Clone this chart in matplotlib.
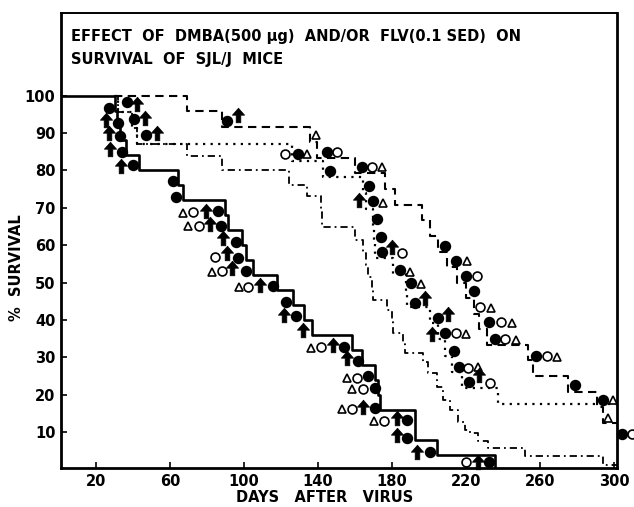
import matplotlib
matplotlib.use("Agg")
import matplotlib.pyplot as plt
from matplotlib.path import Path

# ---- survival curves: change points (day, % survival), step "post" ----
solid_days = [0, 30.3, 31.5, 33, 36.5, 43.4, 64.5, 67.2, 89.7, 91.5, 98.8, 101.1, 104.7,
              118, 126.6, 132.4, 136.6, 158.2, 163.6, 170.8, 172.4, 173.5, 192.4, 204.2, 235.5]
solid_pct = [100, 96, 92, 88, 84, 80, 76, 72, 68, 64, 60, 56, 52,
             48, 44, 40, 36, 32, 28, 24, 20, 16, 8, 4, 0]

dashed_days = [30, 69.0, 87.9, 135.7, 139.5, 160.0, 176.2, 181.6, 196.0, 200.5, 204.9, 209.7,
               215.1, 220.0, 224.3, 227.0, 231.2, 253.5, 256.2, 275.3, 290.6, 294.0, 301.6]
dashed_pct = [100, 95.8, 91.7, 87.5, 83.3, 79.2, 75.0, 70.8, 66.7, 62.5, 58.3, 54.2,
              50.0, 45.8, 41.7, 37.5, 33.3, 29.2, 25.0, 20.8, 16.7, 12.5, 12.5]

dotted_days = [30.3, 32, 39.5, 42, 125.8, 142.9, 164.2, 166, 169.9, 170.5, 171, 180.7,
               187.6, 188, 200.5, 204.9, 208.6, 212.4, 217.7, 237.5, 301.6]
dotted_pct = [100, 95.65, 91.3, 86.96, 82.61, 78.26, 73.91, 69.57, 65.22, 60.87, 56.52, 52.17,
              47.83, 43.48, 39.13, 34.78, 30.43, 26.09, 21.74, 17.39, 17.39]

dashdot_days = [30.3, 32, 39.5, 42, 69.0, 87.9, 124.3, 134.3, 141.6, 142.3, 160.0, 164.3, 166,
                167.2, 169, 169.9, 177.1, 180, 180.7, 186, 187.0, 196.9, 199.6, 204.2, 207.8,
                211.4, 215.9, 219.5, 222.2, 226.5, 231.9, 252.0, 294.3, 301.6]
dashdot_pct = [100, 95.7, 91.3, 87.0, 83.8, 80.2, 76.1, 73.1, 68.9, 64.9, 61.4, 57.8, 54.7,
               51.6, 48.4, 45.3, 42.6, 39.5, 36.4, 33.7, 31.1, 28.8, 25.7, 22.1, 18.6,
               15.9, 12.8, 10.6, 9.7, 7.5, 5.7, 3.7, 1.2, 1.2]

# ---- individual deaths (day, %) by symbol ----
fcirc_day = [27.0, 37.0, 31.9, 40.3, 33.2, 47.0, 34.1, 40.2, 61.6, 63.0, 85.7, 87.6, 95.7,
             96.9, 101.1, 115.5, 122.7, 128.1, 154.0, 161.8, 167.2, 170.8, 170.8, 188.3,
             188.3, 200.5, 232.3, 90.6, 129.3, 144.7, 146.7, 163.6, 167.7, 169.9, 172.0,
             173.9, 174.4, 184.3, 190.3, 192.4, 204.6, 208.9, 213.5, 216.2, 221.8, 208.4,
             214.7, 220.0, 224.4, 232.6, 235.4, 257.8, 279.1, 293.9, 304.1]
fcirc_pct = [96.8, 98.3, 92.8, 93.7, 89.3, 89.4, 85.0, 81.4, 77.1, 73.0, 69.1, 65.0, 60.9,
             56.7, 53.2, 49.1, 44.9, 41.0, 32.8, 29.1, 25.0, 21.7, 16.4, 13.2,
             8.5, 4.8, 2.0, 93.2, 84.5, 85.0, 79.9, 81.0, 75.8, 71.8, 67.0,
             62.2, 58.2, 53.3, 49.8, 44.4, 40.6, 36.6, 31.7, 27.3, 23.5, 59.8,
             55.7, 51.7, 47.7, 39.5, 34.8, 30.3, 22.6, 18.6, 9.4]

ocirc_day = [72.3, 75.8, 84.3, 87.9, 102.3, 141.5, 160.9, 164.2, 158.2, 175.8, 220.0, 122.2,
             150.1, 169.2, 185.2, 214.6, 221.2, 233.0, 226.1, 227.6, 238.7, 241.3, 263.6, 309.5]
ocirc_pct = [69.0, 65.0, 56.9, 53.1, 48.7, 32.7, 24.6, 21.5, 16.2, 13.0, 2.0, 84.5,
             85.0, 81.0, 58.0, 36.4, 27.2, 23.2, 51.7, 43.4, 39.5, 34.8, 30.3, 9.4]

otri_day = [67.2, 69.9, 82.5, 97.3, 136.0, 155.5, 158.2, 153.1, 170.4, 138.9, 134.3, 174.6,
            175.0, 189.7, 195.5, 220.0, 226.6, 220.4, 233.3, 244.6, 247.0, 269.4, 299.2, 296.9]
otri_pct = [68.7, 65.0, 52.9, 48.7, 32.4, 24.6, 21.4, 16.2, 13.0, 89.6, 84.5, 80.9,
            71.4, 52.9, 49.7, 36.2, 27.3, 55.7, 43.3, 39.3, 34.6, 30.2, 18.6, 13.9]

arrow_day = [42.4, 25.4, 46.5, 27.3, 53.2, 27.8, 33.6, 79.5, 81.8, 88.8, 90.6, 93.3, 108.6,
             121.8, 132.0, 147.9, 155.5, 164.5, 182.5, 182.5, 193.7, 226.7, 96.9, 162.2,
             180.0, 197.8, 210.4, 201.4, 227.2]
arrow_pct = [97.7, 93.4, 94.1, 89.9, 90.1, 85.7, 81.3, 69.1, 65.6, 61.8, 57.8, 53.8, 49.3,
             41.3, 37.3, 33.3, 29.7, 16.8, 13.7, 9.2, 4.8, 2.0, 94.7, 72.1,
             59.4, 46.0, 41.6, 36.2, 25.3]

title_lines = ["EFFECT  OF  DMBA(500 \u03bcg)  AND/OR  FLV(0.1 SED)  ON",
               "SURVIVAL  OF  SJL/J  MICE"]
xticks = [20, 60, 100, 140, 180, 220, 260, 300]
yticks = [10, 20, 30, 40, 50, 60, 70, 80, 90, 100]

W, H = 634, 507
FONT = dict(family="DejaVu Sans", weight="bold")


def arrow_marker():
    verts = [(0, 0.5), (0.42, 0.02), (0.16, 0.02), (0.16, -0.5), (-0.16, -0.5),
             (-0.16, 0.02), (-0.42, 0.02), (0, 0.5)]
    codes = [Path.MOVETO] + [Path.LINETO] * 6 + [Path.CLOSEPOLY]
    return Path(verts, codes)


def main():
    fig = plt.figure(figsize=(W / 100, H / 100), dpi=100)
    ax = fig.add_axes([61 / W, 1 - 468 / H, (617 - 61) / W, (468 - 13) / H])
    ax.set_xlim(1.1, 301.6)
    ax.set_ylim(0.4, 122.1)

    ax.step(dashdot_days, dashdot_pct, where="post", color="black", lw=1.3,
            ls=(0, (4, 2.2, 1, 2.2)), zorder=2)
    ax.step(dotted_days, dotted_pct, where="post", color="black", lw=1.6,
            ls=(0, (1, 2.4)), zorder=2)
    ax.step(dashed_days, dashed_pct, where="post", color="black", lw=1.5,
            ls=(0, (4, 2.6)), zorder=2)
    ax.step(solid_days, solid_pct, where="post", color="black", lw=1.9, zorder=3)

    kw = dict(ls="none", color="black", clip_on=False, zorder=4)
    ax.plot(fcirc_day, fcirc_pct, marker="o", ms=7.2, mfc="black", mec="black", **kw)
    ax.plot(ocirc_day, ocirc_pct, marker="o", ms=6.4, mfc="white", mec="black", mew=1.2, **kw)
    ax.plot(otri_day, otri_pct, marker="^", ms=6.4, mfc="white", mec="black", mew=1.2, **kw)
    ax.plot(arrow_day, arrow_pct, marker=arrow_marker(), ms=10.5, mfc="black", mec="black",
            mew=0.5, **kw)

    for side in ["left", "bottom", "right"]:
        ax.spines[side].set_linewidth(2.0)
    ax.spines["top"].set_linewidth(1.4)

    ax.set_xticks(xticks)
    ax.set_yticks(yticks)
    ax.set_xticklabels([str(t) for t in xticks], **FONT)
    ax.set_yticklabels([str(t) for t in yticks], **FONT)
    ax.tick_params(direction="in", length=4, width=1.2, labelsize=10.5, pad=4)

    fig.text(71 / W, 1 - 37 / H, title_lines[0], fontsize=10.5, va="center", ha="left", **FONT)
    fig.text(71 / W, 1 - 60 / H, title_lines[1], fontsize=10.5, va="center", ha="left", **FONT)
    fig.text(325 / W, 1 - 497 / H, "DAYS   AFTER   VIRUS", fontsize=10.5, va="center",
             ha="center", **FONT)
    fig.text(17 / W, 1 - 268 / H, "%  SURVIVAL", fontsize=10.5, va="center", ha="center",
             rotation=90, **FONT)

    fig.savefig("out.png", dpi=100)
    plt.close(fig)


if __name__ == "__main__":
    main()
